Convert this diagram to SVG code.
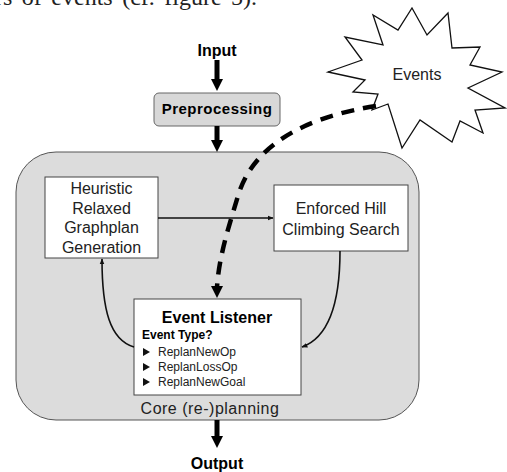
<svg xmlns="http://www.w3.org/2000/svg" width="507" height="472" viewBox="0 0 507 472">
<defs>
<style>
.t{font-family:"Liberation Sans",Arial,sans-serif;fill:#222}
.b{font-weight:bold;fill:#000}
.box{fill:#fff;stroke:#444;stroke-width:1}
.thin{fill:none;stroke:#111;stroke-width:1.6}
.thick{stroke:#000;stroke-width:5}
</style>
<marker id="sm" viewBox="0 0 10 10" refX="9" refY="5" markerWidth="6" markerHeight="6" orient="auto" markerUnits="userSpaceOnUse">
<path d="M0,1 L10,5 L0,9 z" fill="#111"/>
</marker>
</defs>
<rect width="507" height="472" fill="#fff"/>
<text x="-5" y="5" font-family="Liberation Serif,serif" font-size="24" word-spacing="3.5" fill="#222">rs of events (cf. figure 5).</text>

<g id="core">
<rect x="16" y="152" width="403" height="268" rx="40" fill="#dcdcdc" stroke="#555" stroke-width="1"/>
<text class="t" x="210" y="414" font-size="16" text-anchor="middle" letter-spacing="0.5">Core (re-)planning</text>
</g>

<g id="input"><text class="t b" x="217" y="56" font-size="16" text-anchor="middle">Input</text></g>
<g id="output"><text class="t b" x="217" y="469" font-size="16" text-anchor="middle">Output</text></g>

<g id="preprocessing">
<rect x="154" y="93" width="126" height="33" rx="5" fill="#d8d8d8" stroke="#666" stroke-width="1"/>
<text class="t b" x="217" y="114" font-size="15" text-anchor="middle" letter-spacing="0.5">Preprocessing</text>
</g>

<g id="events">
<polygon points="412,8 427,35 448,13 452,48 480,47 470,65 502,72 468,88 505,108 475,110 483,133 460,121 452,142 420,120 402,148 388,104 372,110 378,94 353,92 365,80 328,72 362,60 345,37 383,45 373,15 398,30" fill="#fff" stroke="#111" stroke-width="1.3" stroke-linejoin="miter"/>
<text class="t" x="417" y="80" font-size="16" text-anchor="middle" fill="#333">Events</text>
</g>

<g id="heuristic">
<rect class="box" x="45" y="177" width="113" height="81"/>
<text class="t" x="101.5" y="194" font-size="16" text-anchor="middle">Heuristic</text>
<text class="t" x="101.5" y="213.5" font-size="16" text-anchor="middle">Relaxed</text>
<text class="t" x="101.5" y="233" font-size="16" text-anchor="middle">Graphplan</text>
<text class="t" x="101.5" y="252.5" font-size="16" text-anchor="middle">Generation</text>
</g>

<g id="enforced">
<rect class="box" x="274" y="185" width="134" height="66"/>
<text class="t" x="341" y="214" font-size="16" text-anchor="middle">Enforced Hill</text>
<text class="t" x="341" y="235" font-size="16" text-anchor="middle">Climbing Search</text>
</g>

<g id="listener">
<rect class="box" x="134" y="299" width="167" height="96"/>
<text class="t b" x="217" y="323" font-size="16" text-anchor="middle">Event Listener</text>
<text class="t b" x="142" y="339" font-size="12">Event Type?</text>
<path d="M143,348 L150,352 L143,356 z M143,363 L150,367 L143,371 z M143,378 L150,382 L143,386 z" fill="#111"/>
<text class="t" x="158" y="356" font-size="12" fill="#333">ReplanNewOp</text>
<text class="t" x="158" y="371" font-size="12" fill="#333">ReplanLossOp</text>
<text class="t" x="158" y="386" font-size="12" fill="#333">ReplanNewGoal</text>
</g>

<g id="connectors">
<line class="thick" x1="217" y1="60" x2="217" y2="80"/>
<path d="M211,79 L223,79 L217,91 z" fill="#000"/>
<line class="thick" x1="217" y1="126" x2="217" y2="141"/>
<path d="M211,140 L223,140 L217,152 z" fill="#000"/>
<line class="thick" x1="217" y1="420" x2="217" y2="437"/>
<path d="M211,436 L223,436 L217,448 z" fill="#000"/>
<line class="thin" x1="158" y1="218" x2="273" y2="218" marker-end="url(#sm)"/>
<path class="thin" d="M134,347 C110,340 102,310 102,259" marker-end="url(#sm)"/>
<path class="thin" d="M340,251 C340,300 330,337 302,347" marker-end="url(#sm)"/>
<path d="M376,106 C300,118 252,148 238,196 C227,232 219,258 217,287" fill="none" stroke="#000" stroke-width="4.5" stroke-dasharray="13 9"/>
<path d="M211,286 L223,286 L217,298 z" fill="#000"/>
</g>
</svg>
